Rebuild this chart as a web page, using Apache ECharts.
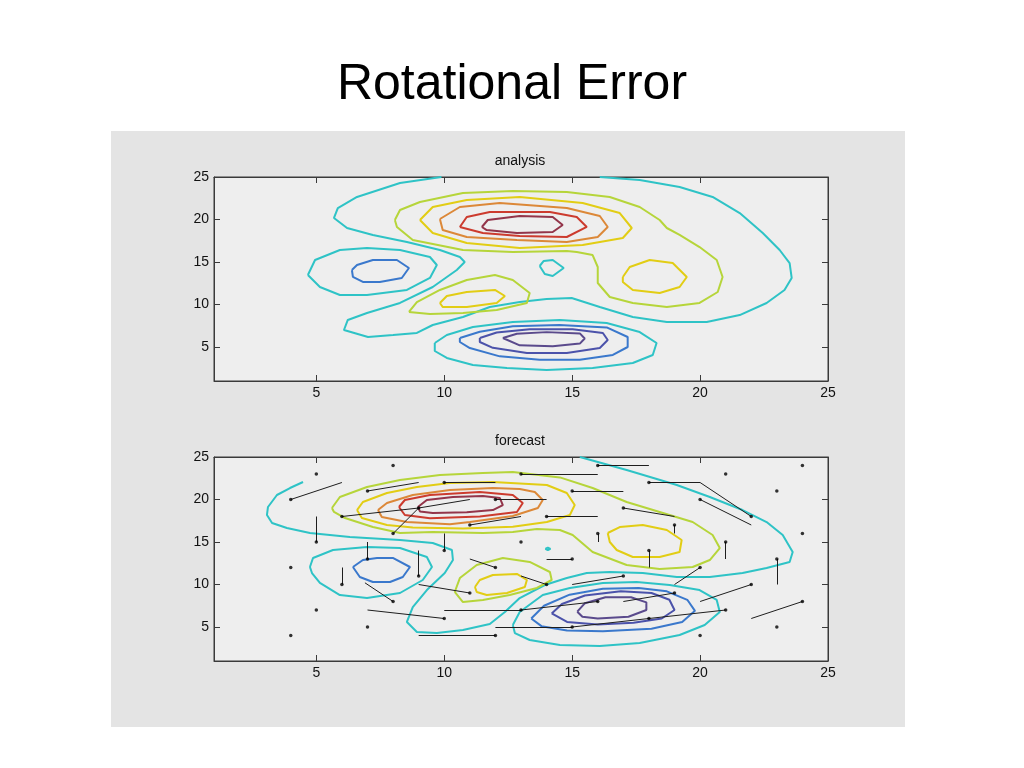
<!DOCTYPE html>
<html><head><meta charset="utf-8">
<script src="https://cdn.jsdelivr.net/npm/echarts@6/dist/echarts.min.js"></script>
<style>
html,body{margin:0;padding:0;background:#fff}
#panel{position:absolute;left:111px;top:131px;width:794px;height:596px;background:#e4e4e4}
#c{position:absolute;left:0;top:0;width:1024px;height:768px}
</style>
</head><body><div id="panel"></div><div id="c"></div><script>
// ---------- tick values ----------
const xTicks = [5, 10, 15, 20, 25];
const yTicks = [5, 10, 15, 20, 25];

// ---------- analysis contours (data units) ----------
const anCyanOuter = [[9.89,25],[8.27,24.29],[6.59,22.65],[5.84,21.35],[5.69,20.18],[6.2,19.0],[7.21,18.18],[8.54,17.35],[9.83,16.41],[10.61,15.59],[10.8,15.0],[10.49,14.06],[9.55,12.06],[8.27,10.18],[6.98,9.0],[6.23,8.18],[6.08,7.0],[7.02,6.18],[8.0,6.41],[8.93,6.65],[9.55,7.59],[10.73,8.53],[11.78,9.71],[12.95,10.29],[14.0,10.65],[14.98,10.76],[16.08,9.71],[17.37,8.53],[18.7,7.94],[20.26,7.94],[21.55,8.76],[22.6,10.18],[23.3,11.71],[23.58,13.12],[23.5,14.88],[23.11,16.41],[22.45,18.41],[21.55,20.76],[20.49,22.65],[19.2,23.82],[17.64,24.65],[16.08,25]];
const anLowCyan = [[9.63,5.47],[10.1,6.41],[11.12,7.35],[12.68,7.94],[14.52,8.18],[16.35,7.82],[17.64,6.76],[18.3,5.47],[18.15,4.06],[17.37,3.12],[15.8,2.53],[14.0,2.29],[12.45,2.53],[11.12,2.88],[10.1,3.71],[9.63,4.53]];
const anLowBlue = [[10.61,6.06],[11.39,6.8],[12.68,7.45],[14.5,7.6],[16.35,7.3],[17.17,6.18],[17.17,5.0],[16.59,4.06],[15.3,3.5],[13.73,3.5],[12.17,3.9],[11.0,4.88],[10.61,5.59]];
const anLowIndigo = [[11.39,6.06],[12.05,6.7],[13.34,7.1],[15.02,7.1],[16.2,6.65],[16.39,5.82],[16.08,4.88],[14.79,4.3],[13.23,4.3],[11.9,4.9],[11.39,5.59]];
const anLowPurple = [[12.29,6.06],[12.84,6.55],[14.0,6.75],[15.3,6.6],[15.49,6.0],[15.3,5.4],[14.24,5.1],[12.95,5.2]];
const anHighGreen = [[8.07,19.94],[8.27,21.12],[9.05,22.06],[10.73,23.12],[12.68,23.35],[14.79,23.24],[16.47,22.65],[17.64,21.47],[18.42,19.94],[18.7,19.0],[19.2,18.18],[19.98,16.76],[20.65,15.24],[20.88,13.24],[20.69,11.47],[19.98,10.18],[18.7,9.71],[17.37,10.18],[16.47,10.88],[16.0,12.53],[16.0,14.41],[15.8,15.82],[15.18,16.18],[14.79,16.3],[12.68,16.18],[10.73,16.41],[8.77,17.59],[8.15,19.12]];
const anHighYellow = [[9.05,19.94],[9.55,21.47],[10.88,22.29],[12.95,22.65],[15.41,21.94],[16.86,20.76],[17.33,19.0],[16.98,17.82],[15.41,17.0],[12.95,16.65],[10.88,17.24],[9.55,18.41]];
const anHighOrange = [[9.83,20.06],[10.61,21.47],[12.17,21.94],[14.79,21.35],[16.08,20.41],[16.39,19.12],[16.0,17.94],[14.79,17.35],[12.84,17.59],[10.88,17.94],[9.94,18.76]];
const anHighRed = [[10.61,19.12],[10.88,20.29],[11.78,20.88],[14.13,20.88],[15.18,20.29],[15.57,19.12],[14.79,17.94],[12.95,18.06],[11.51,18.41]];
const anHighDark = [[11.47,19.12],[11.7,19.94],[12.95,20.41],[14.24,20.29],[14.63,19.35],[14.24,18.53],[12.84,18.41],[11.66,18.76]];
const anRightYellow = [[16.98,13.24],[17.25,14.41],[18.03,15.24],[18.93,14.88],[19.48,13.24],[19.2,12.06],[18.42,11.35],[17.37,11.71],[16.98,12.65]];
const anSmallCyan = [[13.73,14.53],[13.89,15.12],[14.24,15.24],[14.67,14.29],[14.24,13.35],[13.93,13.59]];
const anMidGreen = [[8.62,9.12],[8.93,10.29],[9.83,11.71],[10.88,12.88],[11.98,13.47],[12.68,12.88],[13.34,11.35],[13.23,10.18],[12.05,9.35],[10.73,9.0],[9.44,8.88]];
const anMidYellow = [[9.83,10.18],[10.1,11.0],[10.88,11.47],[11.98,11.71],[12.37,11.0],[12.05,10.18],[10.88,9.71],[9.94,9.71]];
const anLeftCyan = [[4.67,13.47],[4.95,15.24],[5.92,16.41],[6.98,16.65],[8.27,16.41],[9.44,15.59],[9.71,14.65],[9.44,13.12],[8.54,11.71],[6.98,11.12],[5.92,11.12],[5.14,12.06]];
const anLeftBlue = [[6.39,14.06],[6.59,14.65],[7.21,15.24],[8.15,15.24],[8.62,14.29],[8.34,13.12],[7.48,12.65],[6.82,12.65],[6.43,13.24]];

// ---------- forecast contours (data units) ----------
const fcCyanOuter = [[15.3,25],[17.13,23.47],[19.09,21.71],[20.38,20.29],[21.66,18.76],[22.6,17.35],[23.23,15.82],[23.62,13.82],[23.5,12.65],[22.6,11.94],[21.66,11.35],[20.38,10.88],[19.09,10.88],[17.76,11.35],[16.47,11.47],[15.57,11.35],[14.79,10.76],[13.93,9.94],[12.95,8.41],[12.37,6.76],[11.78,5.35],[10.73,4.65],[9.71,4.29],[8.93,4.41],[8.54,5.59],[8.77,7.35],[9.32,9.35],[10.02,11.35],[10.34,12.88],[10.3,14.06],[9.55,14.88],[8.27,15.24],[6.31,15.59],[4.75,16.06],[3.85,16.65],[3.27,17.24],[3.07,18.18],[3.11,19.12],[3.46,20.53],[3.97,21.35],[4.48,22.06]];
const fcLeftCyan = [[4.75,12.06],[4.87,13.12],[5.65,14.06],[6.98,14.41],[8.27,14.29],[9.32,13.24],[9.52,12.06],[9.16,10.53],[8.27,9.0],[6.98,8.41],[5.92,8.76],[5.14,10.18],[4.83,11.35]];
const fcLeftBlue = [[6.43,12.06],[6.82,12.88],[7.37,13.12],[7.99,13.12],[8.66,12.06],[8.38,10.88],[7.88,10.29],[7.21,10.29],[6.7,10.88]];
const fcHighGreen = [[5.61,19.0],[5.92,20.29],[6.98,21.47],[8.27,22.29],[9.83,22.88],[11.51,23.12],[12.68,23.24],[14.52,22.6],[15.8,21.35],[17.13,19.71],[18.42,18.53],[19.71,17.35],[20.49,15.82],[20.77,14.29],[20.38,12.88],[19.71,12.06],[18.42,11.82],[17.13,12.29],[15.8,13.82],[15.02,15.82],[14.52,16.41],[13.62,16.53],[12.68,16.18],[11.51,16.06],[9.55,16.18],[8.27,16.06],[7.21,16.76],[6.12,17.82],[5.69,18.53]];
const fcHighYellow = [[6.59,18.76],[6.82,19.71],[7.76,20.76],[8.93,21.47],[10.22,21.94],[11.9,22.06],[14.01,21.71],[14.79,20.76],[15.1,19.35],[14.91,18.18],[14.01,17.35],[12.68,16.8],[10.73,16.6],[8.77,16.7],[7.76,17.0],[6.78,17.82]];
const fcHighOrange = [[7.41,18.76],[7.76,19.59],[8.77,20.53],[10.22,21.12],[11.9,21.35],[12.95,21.24],[13.54,20.88],[13.85,19.94],[13.66,19.0],[12.68,18.06],[11.0,17.35],[10.22,17.1],[8.54,17.35],[7.56,17.94]];
const fcHighRed = [[8.23,19.12],[8.46,19.94],[9.44,20.53],[11.39,20.88],[12.68,20.53],[13.07,19.59],[12.84,18.53],[11.39,18.0],[9.44,17.8],[8.46,18.18]];
const fcHighDark = [[8.97,19.12],[9.32,19.94],[10.34,20.29],[11.51,20.41],[12.17,20.18],[12.29,19.35],[11.9,18.76],[10.88,18.5],[9.55,18.4],[9.05,18.6]];
const fcRightYellow = [[16.39,16.06],[16.86,16.76],[17.76,17.0],[18.7,16.41],[19.28,15.24],[19.2,13.82],[18.42,13.24],[17.37,13.24],[16.74,14.06],[16.47,15.0]];
const fcMidGreen = [[10.41,9.12],[10.61,10.76],[11.27,12.29],[12.29,13.12],[13.34,12.65],[14.13,11.47],[14.2,10.53],[13.62,9.59],[12.56,8.76],[11.51,8.18],[10.73,7.94]];
const fcMidYellow = [[11.2,9.71],[11.39,10.53],[11.9,11.12],[12.84,11.24],[13.23,10.53],[13.15,9.71],[12.45,9.0],[11.66,8.76],[11.27,9.12]];
const fcTinyCyan = [[13.95,14.2],[14.05,14.35],[14.15,14.2],[14.05,14.05]];
const fcLowCyan = [[12.68,5.24],[12.95,6.76],[13.85,8.76],[14.91,9.59],[16.2,10.18],[17.52,10.29],[18.81,9.94],[19.98,9.35],[20.65,8.18],[20.77,6.76],[20.18,5.24],[19.2,4.06],[17.64,3.12],[16.08,2.76],[14.52,2.88],[13.34,3.47],[12.76,4.29]];
const fcLowBlue = [[13.4,6.0],[13.9,7.5],[14.9,8.8],[16.2,9.5],[17.6,9.6],[18.7,9.2],[19.5,8.2],[19.8,6.9],[19.3,5.6],[18.1,4.8],[16.2,4.5],[14.8,4.6],[13.8,5.1]];
const fcLowIndigo = [[14.2,6.6],[14.6,7.7],[15.5,8.7],[16.9,9.2],[18.1,9.0],[18.8,8.2],[19.0,7.0],[18.5,6.0],[17.4,5.5],[16.0,5.3],[14.8,5.6]];
const fcLowPurple = [[15.2,6.8],[15.5,7.8],[16.3,8.5],[17.3,8.5],[17.9,7.9],[17.9,7.0],[17.2,6.2],[16.0,6.0],[15.4,6.2]];

// ---------- forecast error vectors [x0, y0, x1, y1] and lone grid dots ----------
const fcVectors = [[4,20,6,22],[7,21,9,22],[10,22,12,22],[13,23,16,23],[16,24,18,24],[18,22,20,22],[22,18,20,22],[20,20,22,17],[15,21,17,21],[12,20,14,20],[17,19,19,18],[6,18,9,19],[8,16,9,19],[9,19,11,20],[11,17,13,18],[14,18,16,18],[19,17,19,16],[16,16,16,15],[21,15,21,13],[18,14,18,12],[23,13,23,10],[5,15,5,18],[7,13,7,15],[10,14,10,16],[9,11,9,14],[6,10,6,12],[15,13,14,13],[12,12,11,13],[14,10,13,11],[11,9,9,10],[8,8,6.9,10.2],[20,12,19,10],[17,11,15,10],[22,10,20,8],[19,9,17,8],[16,8,13,7],[13,7,10,7],[10,6,7,7],[18,6,15,5],[15,5,12,5],[12,4,9,4],[21,7,18,6],[24,8,22,6]];
const fcDots = [[5,23],[8,24],[4,12],[5,7],[4,4],[7,5],[13,15],[21,23],[24,24],[23,21],[24,16],[23,5],[20,4]];

// ---------- colours ----------
const C = {cyan:'#2ec3c6', blue:'#3a78cc', indigo:'#4b52aa', purple:'#5a4a8c', green:'#b6d53a', yellow:'#e2cd14', orange:'#dc8838', red:'#cc3b2e', dark:'#93354a'};

const FONT = '"Liberation Sans", Arial, Helvetica, sans-serif';
const AX = '#3a3a3a';

function xAxis(gi, pos, showLabel) {
  return {type:'value', gridIndex:gi, position:pos, min:1, max:25,
    axisLine:{show:true, onZero:false, lineStyle:{color:AX, width:1}},
    axisTick:{show:true, inside:true, length:6, customValues:xTicks, lineStyle:{color:AX}},
    axisLabel:{show:showLabel, customValues:xTicks, color:'#111', fontSize:14, fontFamily:FONT, margin:5},
    splitLine:{show:false}};
}
function yAxis(gi, pos, showLabel) {
  return {type:'value', gridIndex:gi, position:pos, min:1, max:25,
    axisLine:{show:true, onZero:false, lineStyle:{color:AX, width:1}},
    axisTick:{show:true, inside:true, length:6, customValues:yTicks, lineStyle:{color:AX}},
    axisLabel:{show:showLabel, customValues:yTicks, color:'#111', fontSize:14, fontFamily:FONT, margin:5},
    splitLine:{show:false}};
}
function contour(data, color, gi, closeIt) {
  const d = closeIt === false ? data : data.concat([data[0]]);
  return {type:'line', xAxisIndex:gi*2, yAxisIndex:gi*2, data:d, showSymbol:false, symbol:'none',
    lineStyle:{color:color, width:2}, silent:true, z:2};
}

const series = [
  contour(anCyanOuter, C.cyan, 0, false),
  contour(anLowCyan, C.cyan, 0), contour(anLowBlue, C.blue, 0), contour(anLowIndigo, C.indigo, 0), contour(anLowPurple, C.purple, 0),
  contour(anHighGreen, C.green, 0), contour(anHighYellow, C.yellow, 0), contour(anHighOrange, C.orange, 0), contour(anHighRed, C.red, 0), contour(anHighDark, C.dark, 0),
  contour(anRightYellow, C.yellow, 0), contour(anSmallCyan, C.cyan, 0),
  contour(anMidGreen, C.green, 0), contour(anMidYellow, C.yellow, 0),
  contour(anLeftCyan, C.cyan, 0), contour(anLeftBlue, C.blue, 0),

  contour(fcCyanOuter, C.cyan, 1, false),
  contour(fcLeftCyan, C.cyan, 1), contour(fcLeftBlue, C.blue, 1),
  contour(fcHighGreen, C.green, 1), contour(fcHighYellow, C.yellow, 1), contour(fcHighOrange, C.orange, 1), contour(fcHighRed, C.red, 1), contour(fcHighDark, C.dark, 1),
  contour(fcRightYellow, C.yellow, 1), contour(fcMidGreen, C.green, 1), contour(fcMidYellow, C.yellow, 1),
  contour(fcTinyCyan, C.cyan, 1),
  contour(fcLowCyan, C.cyan, 1), contour(fcLowBlue, C.blue, 1), contour(fcLowIndigo, C.indigo, 1), contour(fcLowPurple, C.purple, 1),
  {type:'lines', coordinateSystem:'cartesian2d', xAxisIndex:2, yAxisIndex:2, silent:true, z:5,
    data: fcVectors.map(v => ({coords:[[v[0], v[1]], [v[2], v[3]]]})),
    lineStyle:{color:'#1e1e1e', width:1, opacity:1, curveness:0}},
  {type:'scatter', xAxisIndex:2, yAxisIndex:2, silent:true, z:6, symbol:'circle', symbolSize:3.5,
    itemStyle:{color:'#000'},
    data: fcVectors.map(v => [v[0], v[1]]).concat(fcDots)}
];

const chart = echarts.init(document.getElementById('c'), null, {renderer:'canvas'});
chart.setOption({
  animation:false,
  backgroundColor:'transparent',
  grid:[
    {left:214, top:177, width:614, height:204, show:true, backgroundColor:'#eeeeee', borderColor:AX, borderWidth:1},
    {left:214, top:457, width:614, height:204, show:true, backgroundColor:'#eeeeee', borderColor:AX, borderWidth:1}
  ],
  xAxis:[xAxis(0,'bottom',true), xAxis(0,'top',false), xAxis(1,'bottom',true), xAxis(1,'top',false)],
  yAxis:[yAxis(0,'left',true), yAxis(0,'right',false), yAxis(1,'left',true), yAxis(1,'right',false)],
  graphic:[
    {type:'text', x:512, y:85, silent:true, style:{text:'Rotational Error', fill:'#000', font:'normal 50px ' + FONT, textAlign:'center', textVerticalAlign:'middle'}},
    {type:'text', x:520, y:161, silent:true, style:{text:'analysis', fill:'#111', font:'normal 14px ' + FONT, textAlign:'center', textVerticalAlign:'middle'}},
    {type:'text', x:520, y:441, silent:true, style:{text:'forecast', fill:'#111', font:'normal 14px ' + FONT, textAlign:'center', textVerticalAlign:'middle'}}
  ],
  series: series
});
</script></body></html>
